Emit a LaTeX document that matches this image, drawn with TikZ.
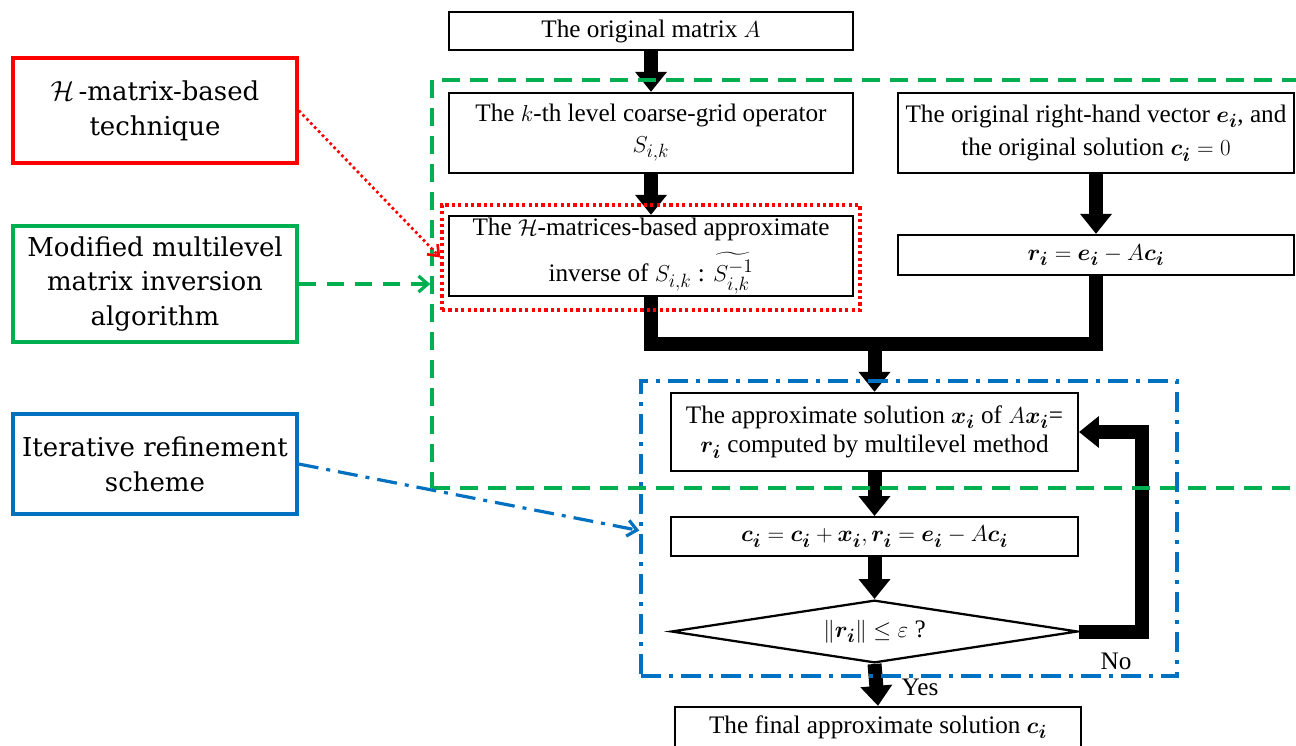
\documentclass[tikz,border=0pt]{standalone}
\usepackage{amsmath,bm}
\usepackage{fontspec}
\setmainfont{Liberation Serif}
\newfontfamily\lblfont{DejaVu Serif}
\usetikzlibrary{arrows.meta,shapes.geometric,fit}
\definecolor{myred}{RGB}{255,0,0}
\definecolor{mygreen}{RGB}{0,176,80}
\definecolor{myblue}{RGB}{0,112,192}
\begin{document}
\begin{tikzpicture}[x=0.75pt,y=-0.75pt,
  box/.style={draw, line width=1.7pt, align=center, inner sep=0pt, font=\fontsize{18.9}{22}\selectfont},
  plain/.style={inner sep=0pt, font=\fontsize{18.9}{22}\selectfont},
  bigarrow/.style={line width=10.5pt, line join=miter, -{Triangle[width=23pt,length=15pt]}},
  thickline/.style={line width=10.5pt, line join=miter},
  lbl/.style={draw, line width=2.6pt, align=center, minimum width=213pt, inner sep=0pt, font=\lblfont\fontsize{19.5}{26}\selectfont},
  gdash/.style={draw=mygreen, line width=2.6pt, dash pattern=on 13.5pt off 7.5pt},
  bdashdot/.style={draw=myblue, line width=2.6pt, dash pattern=on 15pt off 6pt on 3pt off 6pt},
  rdot/.style={draw=myred, line width=2.6pt, dash pattern=on 2.4pt off 2.4pt},
]
\fill[white] (0,0) rectangle (1296,746);
\clip (0,0) rectangle (1296,746);

% main flow boxes
\node[box, minimum width=303pt, minimum height=28.5pt] (A) at (651,31) {The original matrix $A$};
\node[box, minimum width=303pt, minimum height=60pt] (Sk) at (651,133) {The $k$-th level coarse-grid operator\\[1pt] $S_{i,k}$};
\node[box, minimum width=303pt, minimum height=60pt] (Hinv) at (651,256) {The $\mathcal{H}$-matrices-based approximate\\[8pt] inverse of $S_{i,k}$ : $\widetilde{S_{i,k}^{-1}}$};
\node[box, minimum width=297pt, minimum height=60pt, font=\fontsize{18.9}{25}\selectfont] (eb) at (1096,133) {The original right-hand vector $\bm{e_i}$, and\\ the original solution $\bm{c_i}=0$};
\node[box, minimum width=297pt, minimum height=30pt] (rb) at (1096,255) {$\bm{r_i}=\bm{e_i}-A\bm{c_i}$};
\node[box, minimum width=305pt, minimum height=58.5pt] (xb) at (874.5,432) {The approximate solution $\bm{x_i}$ of $A\bm{x_i}$=\\ $\bm{r_i}$ computed by multilevel method};
\node[box, minimum width=305pt, minimum height=29pt] (cb) at (874.5,536.5) {$\bm{c_i}=\bm{c_i}+\bm{x_i},\bm{r_i}=\bm{e_i}-A\bm{c_i}$};
\node[box, shape=diamond, aspect=6.5, minimum width=305pt, minimum height=47pt] (dia) at (874.5,631.5) {$\|\bm{r_i}\|\leq\varepsilon$ ?};
\node[box, minimum width=304.5pt, minimum height=30pt] (fb) at (878,727) {The final approximate solution $\bm{c_i}$};
\node[plain] (yes) at (920,687) {Yes};
\node[plain] (no) at (1116,661) {No};

% thick arrows
\draw[bigarrow] (A) -- (Sk);
\draw[bigarrow] (Sk) -- (Hinv);
\draw[bigarrow] (eb) -- (rb);
\coordinate (m) at (874.5,344);
\draw[thickline] (Hinv.south) |- (m) -| (rb.south);
\draw[bigarrow] (m) -- (xb.north);
\draw[bigarrow] (xb) -- (cb);
\draw[bigarrow] (cb) -- (dia);
\draw[bigarrow] (dia.east) -- ++(63,0) |- (xb.east);
\draw[bigarrow] (dia.south) -- (fb.north);

% grouping frames
\coordinate (g1) at (432,80);
\coordinate (g2) at (1320,488);
\node[gdash, fit=(g1)(g2), inner sep=0pt] (gbox) {};
\coordinate (b1) at (641,381);
\coordinate (b2) at (1177,676);
\node[bdashdot, fit=(b1)(b2), inner sep=0pt] (bbox) {};
\coordinate (r1) at (442,205);
\coordinate (r2) at (860,310);
\node[rdot, fit=(r1)(r2), inner sep=0pt] (rbox) {};

% left labels
\node[lbl, draw=myred, minimum height=78.75pt] (L1) at (155,110.5) {$\mathcal{H}$\,-matrix-based\\ technique};
\node[lbl, draw=mygreen, minimum height=87pt] (L2) at (155,284) {Modified multilevel\\ matrix inversion\\ algorithm};
\node[lbl, draw=myblue, minimum height=75pt] (L3) at (155,464) {Iterative refinement\\ scheme};

\draw[myred, line width=2pt, dash pattern=on 2pt off 2.2pt, -{Straight Barb[length=7pt,width=11pt]}] (L1.east) -- (rbox.west);
\draw[mygreen, line width=2.4pt, dash pattern=on 13pt off 8pt, -{Straight Barb[length=7pt,width=12pt]}] (L2.east) -- (gbox.west |- L2.east);
\draw[myblue, line width=2.4pt, dash pattern=on 15pt off 6pt on 3pt off 6pt, -{Straight Barb[length=7pt,width=12pt]}] (L3.east) -- ([yshift=-1.5pt]bbox.west);
\end{tikzpicture}
\end{document}
